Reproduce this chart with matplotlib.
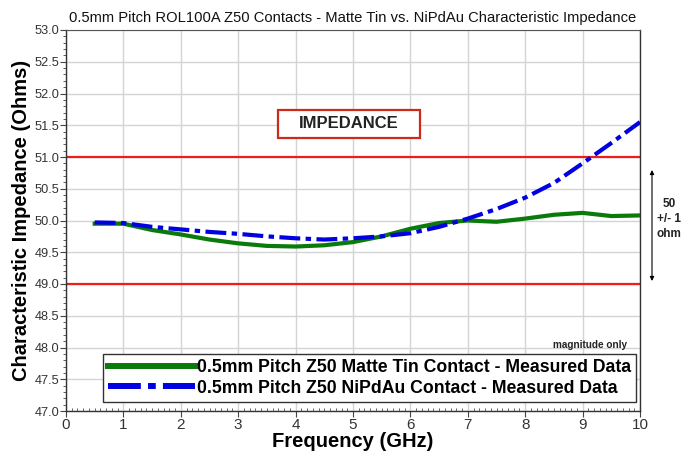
import matplotlib
matplotlib.use("Agg")
import matplotlib.pyplot as plt
from matplotlib.ticker import MultipleLocator, FormatStrFormatter
from matplotlib.lines import Line2D
from matplotlib.patches import Rectangle

plt.rcParams['font.family'] = ['Liberation Sans', 'DejaVu Sans']

freq = [0.5, 1.0, 1.5, 2.0, 2.5, 3.0, 3.5, 4.0, 4.5, 5.0, 5.5, 6.0, 6.5, 7.0, 7.5, 8.0, 8.5, 9.0, 9.5, 10.0]
matte_tin = [49.95, 49.95, 49.85, 49.78, 49.70, 49.64, 49.60, 49.59, 49.61, 49.66, 49.75, 49.87, 49.96, 50.00, 49.98, 50.03, 50.09, 50.12, 50.07, 50.08]
nipdau = [49.97, 49.96, 49.90, 49.86, 49.82, 49.79, 49.75, 49.72, 49.70, 49.72, 49.75, 49.80, 49.90, 50.03, 50.18, 50.36, 50.59, 50.90, 51.22, 51.55]
limits = [51.0, 49.0]

title = "0.5mm Pitch ROL100A Z50 Contacts - Matte Tin vs. NiPdAu Characteristic Impedance"
label_tin = "0.5mm Pitch Z50 Matte Tin Contact - Measured Data"
label_ni = "0.5mm Pitch Z50 NiPdAu Contact - Measured Data"

fig = plt.figure(figsize=(6.93, 4.53), dpi=100)
ax = fig.add_axes([66/693, 1-411/453, (640-66)/693, (411-30)/453])

ax.set_xlim(0, 10)
ax.set_ylim(47, 53)
ax.xaxis.set_major_locator(MultipleLocator(1))
ax.xaxis.set_minor_locator(MultipleLocator(0.1))
ax.yaxis.set_major_locator(MultipleLocator(0.5))
ax.yaxis.set_minor_locator(MultipleLocator(0.1))
ax.yaxis.set_major_formatter(FormatStrFormatter('%.1f'))
ax.grid(True, which='major', color='#d4d4d4', lw=1.0)
ax.set_axisbelow(True)

for y in limits:
    ax.axhline(y, color='#ee1c1c', lw=1.6, zorder=2)

ax.plot(freq, matte_tin, color='#0a7a0a', lw=3.0, zorder=3)
ax.plot(freq, nipdau, color='#0000e0', lw=3.0, dashes=(5, 1.3, 1.3, 1.3), zorder=4)

for s in ['left', 'bottom', 'right']:
    ax.spines[s].set_color('#333333')
    ax.spines[s].set_linewidth(1.0)
ax.spines['top'].set_color('#555555')
ax.tick_params(axis='both', which='major', colors='#444444', length=4)
ax.tick_params(axis='y', which='major', labelsize=9.2, pad=1)
ax.tick_params(axis='x', which='major', labelsize=11, direction='out', pad=1)
ax.tick_params(axis='both', which='minor', length=2.5, color='#444444')
ax.tick_params(axis='x', which='minor', direction='in')
ax.tick_params(axis='y', which='both', direction='out')
for lab in ax.get_xticklabels() + ax.get_yticklabels():
    lab.set_color('#333333')

ax.set_title(title, fontsize=10.6, pad=6, color='#111111')
ax.set_xlabel("Frequency (GHz)", fontsize=14.5, fontweight='bold', labelpad=0)
ax.set_ylabel("Characteristic Impedance (Ohms)", fontsize=14.5, fontweight='bold', labelpad=2)

handles = [Line2D([0], [0], color='#0a7a0a', lw=4.3),
           Line2D([0], [0], color='#0000e0', lw=4.3, dashes=(5.5, 1.2, 1.3, 1.2))]
leg = ax.legend(handles, [label_tin, label_ni], loc='lower right',
                bbox_to_anchor=(0.993, 0.024), frameon=True, fancybox=False,
                edgecolor='#333333', framealpha=1, handlelength=4.9,
                handletextpad=0.1, borderpad=0.3, labelspacing=0.2,
                borderaxespad=0, prop={'size': 12.7, 'weight': 'bold'})
leg.get_frame().set_linewidth(1.0)

ax.text(0.977, 0.172, "magnitude only", transform=ax.transAxes, ha='right', va='center',
        fontsize=7.2, fontweight='bold', color='#222222')

ax.add_patch(Rectangle((3.69, 51.30), 2.48, 0.44, fill=True, fc='white',
                       ec='#cc2a1a', lw=1.6, zorder=5))
ax.text(4.93, 51.52, "IMPEDANCE", ha='center', va='center',
        fontsize=12, fontweight='bold', color='#222222', zorder=6)

ax.annotate("", xy=(652/693, 1-281/453), xytext=(652/693, 1-170/453),
            xycoords='figure fraction', textcoords='figure fraction',
            arrowprops=dict(arrowstyle='<|-|>', color='black', lw=0.8,
                            mutation_scale=6, shrinkA=0, shrinkB=0))
fig.text(669/693, 1-219/453, "50\n+/- 1\nohm", ha='center', va='center',
         fontsize=8.5, fontweight='bold', color='#222222', linespacing=1.3)

fig.savefig("out.png", dpi=100)
